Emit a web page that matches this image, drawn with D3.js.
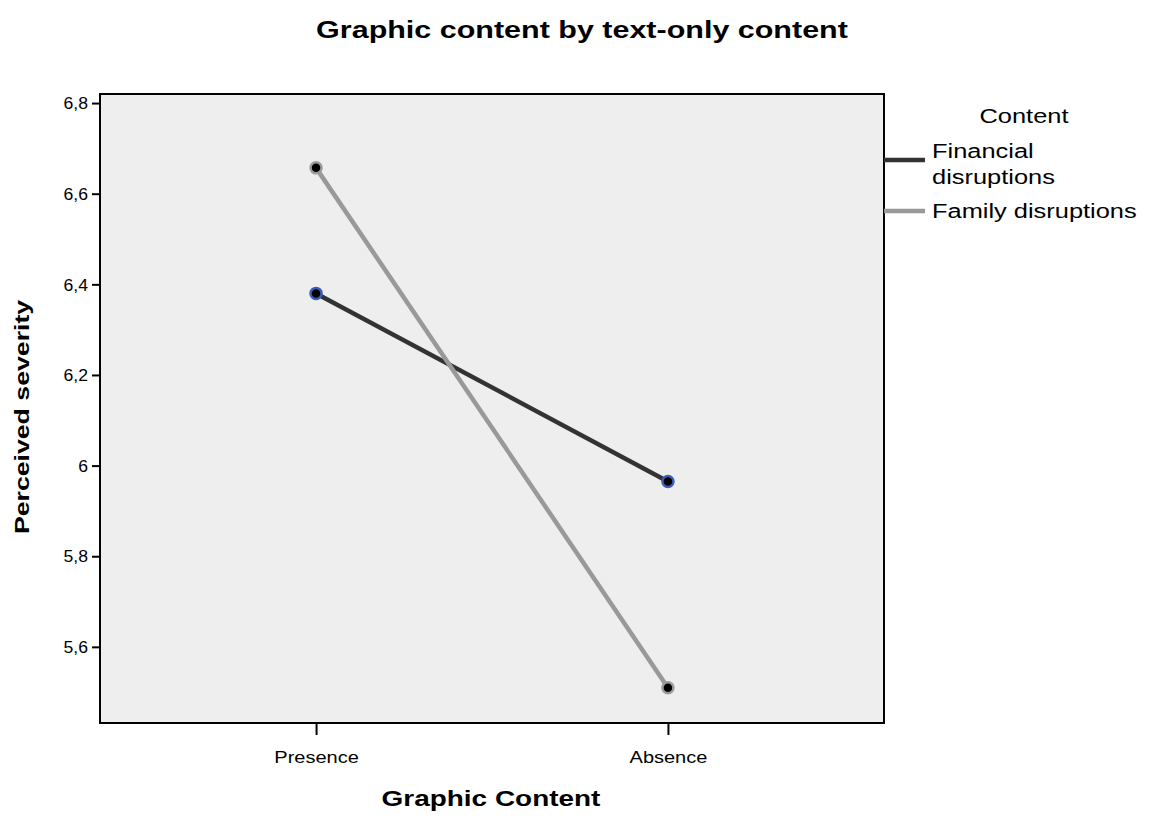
<!DOCTYPE html>
<html><head><meta charset="utf-8">
<script src="https://cdn.jsdelivr.net/npm/d3@7"></script>
<style>body{margin:0;background:#fff;} text{font-family:"Liberation Sans",Arial,sans-serif;}</style>
</head><body>
<svg id="chart" width="1151" height="817"></svg>
<script>
const categories = ["Presence", "Absence"];
const seriesNames = ["Financial disruptions", "Family disruptions"];
const financialValues = [6.38, 5.965];
const familyValues = [6.657, 5.51];
const yTicks = [5.6, 5.8, 6.0, 6.2, 6.4, 6.6, 6.8];
const yTickLabels = ["5,6", "5,8", "6", "6,2", "6,4", "6,6", "6,8"];

const FONT = '"Liberation Sans",Arial,sans-serif';
const svg = d3.select("#chart");
const L = 100, T = 94, R = 884, B = 723;
const x = d3.scalePoint().domain(categories).range([L, R]).padding(0.614);
const y = d3.scaleLinear().domain([5.432, 6.820]).range([B, T]);

function stretch(sel, k) {
  sel.each(function () {
    const w = this.getComputedTextLength();
    d3.select(this).attr("textLength", w * k).attr("lengthAdjust", "spacingAndGlyphs");
  });
}

svg.append("rect").attr("x", L).attr("y", T).attr("width", R - L).attr("height", B - T)
  .attr("fill", "#eeeeee").attr("stroke", "#000").attr("stroke-width", 2);

const yAxis = svg.append("g").attr("transform", `translate(${L},0)`)
  .call(d3.axisLeft(y).tickValues(yTicks).tickFormat((d, i) => yTickLabels[i]).tickSize(8).tickPadding(4));
yAxis.select(".domain").remove();
yAxis.selectAll("line").attr("stroke", "#000").attr("stroke-width", 2);
yAxis.selectAll("text").attr("font-size", 16).attr("fill", "#000").style("font-family", FONT).attr("dy", "0.36em");
stretch(yAxis.selectAll("text"), 1.1);

const xAxis = svg.append("g").attr("transform", `translate(0,${B})`)
  .call(d3.axisBottom(x).tickSize(12).tickPadding(28));
xAxis.select(".domain").remove();
xAxis.selectAll("line").attr("stroke", "#000").attr("stroke-width", 2);
xAxis.selectAll("text").attr("font-size", 16).attr("fill", "#000").style("font-family", FONT).attr("dy", "0");
stretch(xAxis.selectAll("text"), 1.25);

const series = [
  {name: seriesNames[0], values: financialValues, color: "#333333", marker: "#3a5db5"},
  {name: seriesNames[1], values: familyValues, color: "#999999", marker: "#9a9a9a"}
];
const line = d3.line().x((d, i) => x(categories[i])).y(d => y(d));
series.forEach(s => {
  svg.append("path").datum(s.values).attr("d", line).attr("fill", "none")
    .attr("stroke", s.color).attr("stroke-width", 4.5);
});
series.forEach(s => {
  svg.selectAll(null).data(s.values).enter().append("circle")
    .attr("cx", (d, i) => x(categories[i])).attr("cy", d => y(d)).attr("r", 5.5)
    .attr("fill", "#000").attr("stroke", s.marker).attr("stroke-width", 2.5);
});

const title = svg.append("text").attr("x", 582).attr("y", 38).attr("text-anchor", "middle")
  .attr("font-size", 24).attr("font-weight", "bold").text("Graphic content by text-only content");
stretch(title, 1.27);
const xTitle = svg.append("text").attr("x", 491).attr("y", 806).attr("text-anchor", "middle")
  .attr("font-size", 22).attr("font-weight", "bold").text("Graphic Content");
stretch(xTitle, 1.27);
const yTitle = svg.append("text").attr("transform", "translate(29,417) rotate(-90)").attr("text-anchor", "middle")
  .attr("font-size", 21).attr("font-weight", "bold").text("Perceived severity");
stretch(yTitle, 1.27);

// legend
const lg = svg.append("g");
lg.append("text").attr("x", 1024).attr("y", 123).attr("text-anchor", "middle")
  .attr("font-size", 20).text("Content");
lg.append("line").attr("x1", 884).attr("x2", 925).attr("y1", 160).attr("y2", 160)
  .attr("stroke", series[0].color).attr("stroke-width", 4.5);
lg.append("text").attr("x", 932).attr("y", 158).attr("font-size", 20).text("Financial");
lg.append("text").attr("x", 932).attr("y", 184).attr("font-size", 20).text("disruptions");
lg.append("line").attr("x1", 884).attr("x2", 925).attr("y1", 211).attr("y2", 211)
  .attr("stroke", series[1].color).attr("stroke-width", 4.5);
lg.append("text").attr("x", 932).attr("y", 218).attr("font-size", 20).text(seriesNames[1]);
stretch(lg.selectAll("text"), 1.27);
</script>
</body></html>
